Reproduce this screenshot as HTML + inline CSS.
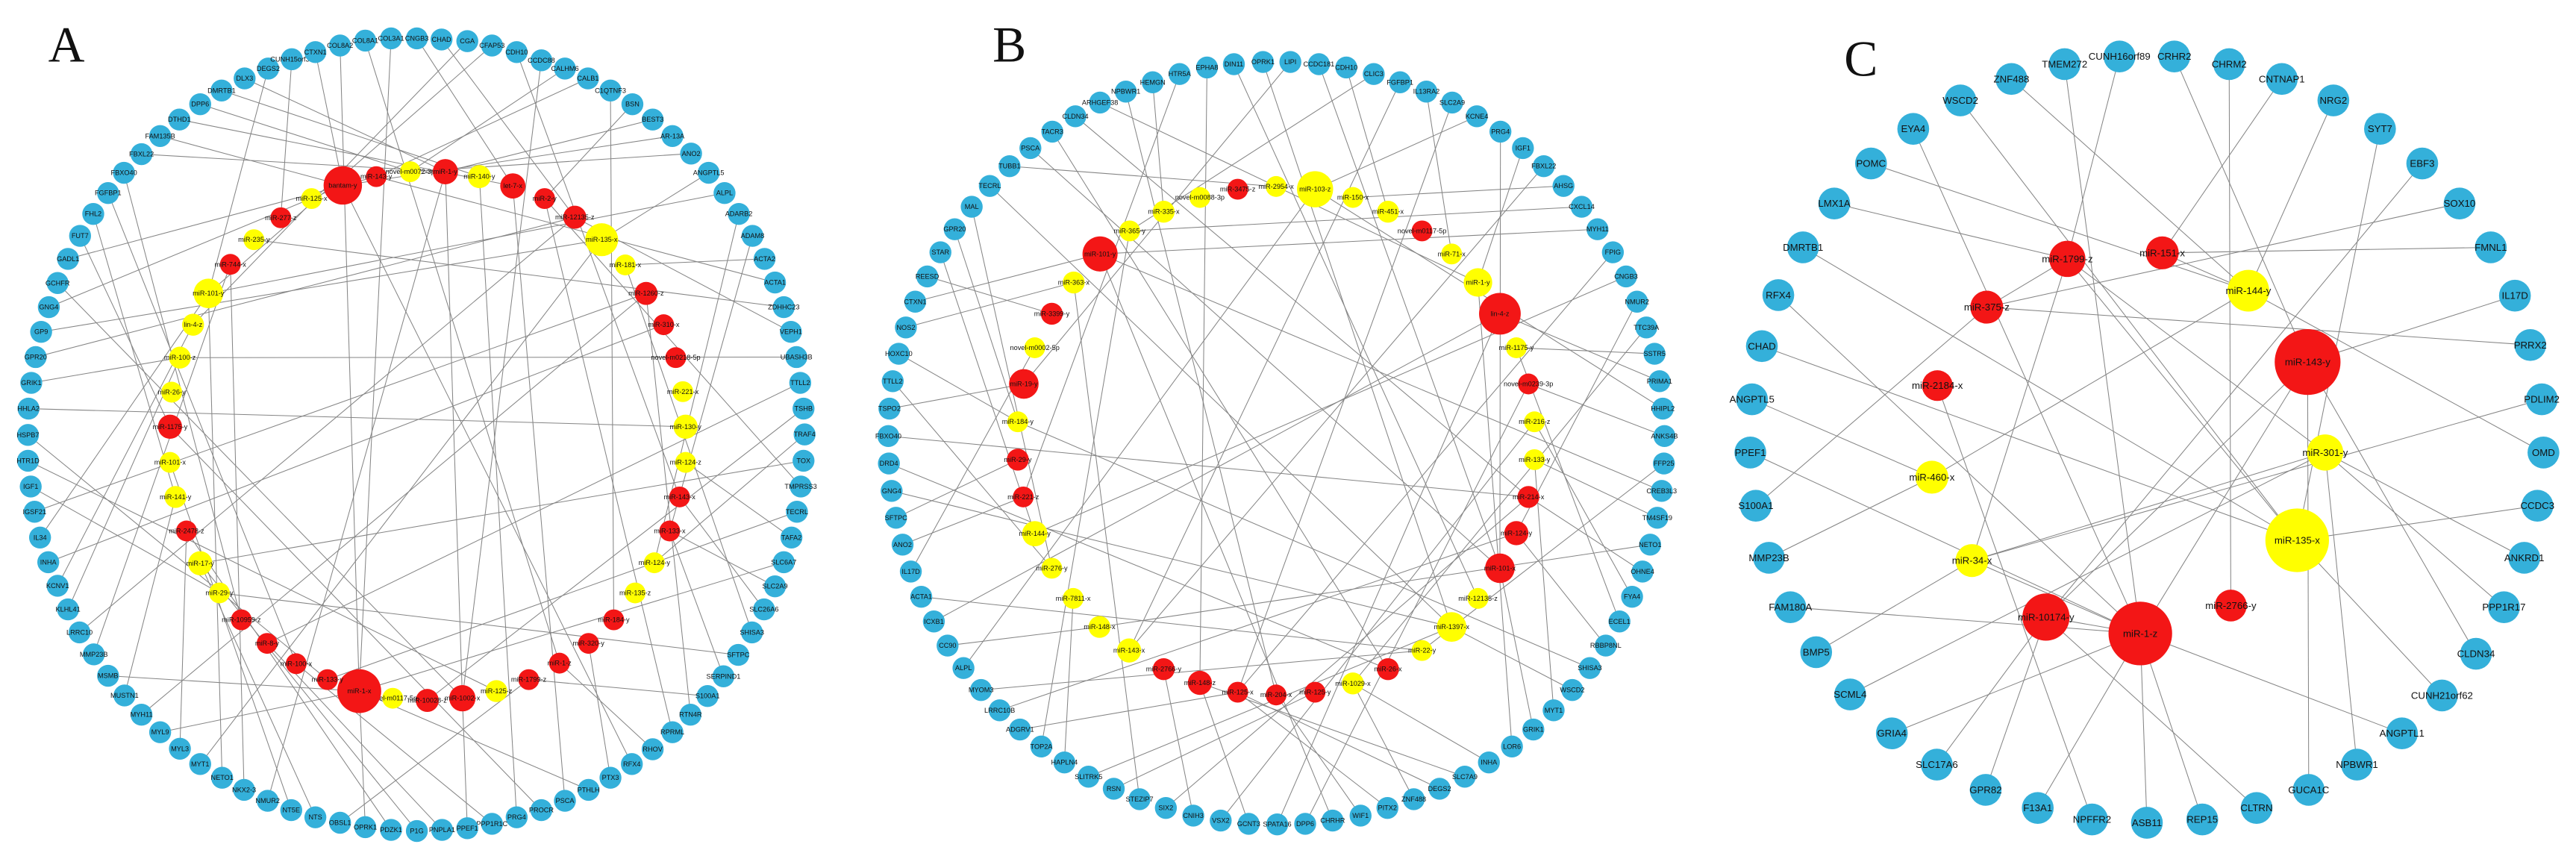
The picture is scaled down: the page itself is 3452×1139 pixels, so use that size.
<!DOCTYPE html>
<html><head><meta charset="utf-8"><style>
html,body{margin:0;padding:0;background:#fff;}
svg{display:block;}
line{stroke:#858585;stroke-width:1.4;}
.b{fill:#34b0da;}
.r{fill:#f31616;}
.y{fill:#ffff00;}
text{font-family:"Liberation Sans",Arial,sans-serif;text-anchor:middle;dominant-baseline:central;fill:#111;}
.t{font-size:12.5px;}
.tc{font-size:18px;}
.L{font-family:"Liberation Serif",serif;font-size:92px;text-anchor:start;dominant-baseline:auto;}
</style></head><body>
<svg width="3452" height="1139" viewBox="0 0 3452 1139" xmlns="http://www.w3.org/2000/svg">
<rect width="3452" height="1139" fill="#fff"/>

<!-- PANEL A -->
<g transform="translate(0,0) scale(0.735)">
<text class="L" x="88" y="112">A</text>
<g>
<line x1="620" y1="83" x2="655" y2="1260"/><line x1="575" y1="95" x2="625" y2="338"/><line x1="532" y1="108" x2="512" y2="397"/><line x1="489" y1="125" x2="380" y2="535"/><line x1="446" y1="143" x2="812" y2="313"/><line x1="404" y1="165" x2="874" y2="322"/><line x1="365" y1="190" x2="748" y2="313"/><line x1="327" y1="218" x2="935" y2="339"/><line x1="292" y1="248" x2="625" y2="338"/><line x1="258" y1="281" x2="812" y2="313"/><line x1="226" y1="315" x2="440" y2="1130"/><line x1="197" y1="352" x2="540" y2="1210"/><line x1="170" y1="390" x2="320" y2="906"/><line x1="146" y1="430" x2="310" y2="778"/><line x1="124" y1="472" x2="686" y2="322"/><line x1="105" y1="516" x2="843" y2="1273"/><line x1="89" y1="560" x2="625" y2="338"/><line x1="75" y1="605" x2="1097" y2="437"/><line x1="65" y1="651" x2="1048" y2="396"/><line x1="57" y1="698" x2="328" y2="652"/><line x1="52" y1="745" x2="1250" y2="778"/><line x1="51" y1="793" x2="597" y2="1239"/><line x1="51" y1="840" x2="905" y2="1260"/><line x1="56" y1="887" x2="400" y2="1081"/><line x1="63" y1="933" x2="1178" y2="535"/><line x1="73" y1="980" x2="380" y2="535"/><line x1="88" y1="1025" x2="1210" y2="592"/><line x1="105" y1="1068" x2="352" y2="592"/><line x1="124" y1="1111" x2="328" y2="652"/><line x1="145" y1="1153" x2="1048" y2="396"/><line x1="171" y1="1193" x2="420" y2="482"/><line x1="197" y1="1232" x2="655" y2="1260"/><line x1="227" y1="1268" x2="320" y2="906"/><line x1="258" y1="1303" x2="1178" y2="535"/><line x1="292" y1="1335" x2="655" y2="1260"/><line x1="328" y1="1365" x2="340" y2="968"/><line x1="365" y1="1393" x2="1097" y2="437"/><line x1="405" y1="1418" x2="380" y2="535"/><line x1="445" y1="1440" x2="420" y2="482"/><line x1="488" y1="1460" x2="812" y2="313"/><line x1="531" y1="1477" x2="310" y2="843"/><line x1="575" y1="1490" x2="365" y2="1027"/><line x1="620" y1="1500" x2="964" y2="1239"/><line x1="666" y1="1508" x2="655" y2="1260"/><line x1="713" y1="1513" x2="340" y2="968"/><line x1="760" y1="1515" x2="365" y2="1027"/><line x1="806" y1="1513" x2="487" y2="1173"/><line x1="852" y1="1510" x2="843" y2="1273"/><line x1="897" y1="1502" x2="540" y2="1210"/><line x1="942" y1="1490" x2="874" y2="322"/><line x1="987" y1="1477" x2="310" y2="778"/><line x1="1030" y1="1460" x2="935" y2="339"/><line x1="1073" y1="1440" x2="655" y2="1260"/><line x1="1113" y1="1418" x2="1073" y2="1173"/><line x1="1152" y1="1393" x2="625" y2="338"/><line x1="1190" y1="1366" x2="1020" y2="1209"/><line x1="1226" y1="1335" x2="993" y2="362"/><line x1="1259" y1="1303" x2="1178" y2="535"/><line x1="1290" y1="1269" x2="964" y2="1239"/><line x1="1319" y1="1233" x2="1221" y2="968"/><line x1="1346" y1="1194" x2="400" y2="1081"/><line x1="1371" y1="1153" x2="1140" y2="483"/><line x1="1393" y1="1111" x2="1239" y2="906"/><line x1="1413" y1="1069" x2="1221" y2="968"/><line x1="1429" y1="1025" x2="655" y2="1260"/><line x1="1443" y1="980" x2="1250" y2="843"/><line x1="1453" y1="933" x2="597" y2="1239"/><line x1="1460" y1="887" x2="993" y2="362"/><line x1="1465" y1="840" x2="365" y2="1027"/><line x1="1467" y1="792" x2="1193" y2="1026"/><line x1="1465" y1="745" x2="779" y2="1277"/><line x1="1459" y1="698" x2="487" y2="1173"/><line x1="1452" y1="651" x2="328" y2="652"/><line x1="1442" y1="605" x2="1048" y2="396"/><line x1="1429" y1="560" x2="463" y2="437"/><line x1="1413" y1="515" x2="686" y2="322"/><line x1="1394" y1="472" x2="1140" y2="483"/><line x1="1372" y1="430" x2="1221" y2="968"/><line x1="1347" y1="390" x2="1193" y2="1026"/><line x1="1321" y1="352" x2="380" y2="535"/><line x1="1292" y1="315" x2="1097" y2="437"/><line x1="1260" y1="280" x2="748" y2="313"/><line x1="1226" y1="248" x2="625" y2="338"/><line x1="1190" y1="218" x2="812" y2="313"/><line x1="1153" y1="190" x2="993" y2="362"/><line x1="1113" y1="165" x2="1119" y2="1130"/><line x1="1072" y1="143" x2="686" y2="322"/><line x1="1030" y1="125" x2="748" y2="313"/><line x1="987" y1="110" x2="843" y2="1273"/><line x1="942" y1="95" x2="1239" y2="906"/><line x1="897" y1="83" x2="380" y2="535"/><line x1="852" y1="75" x2="352" y2="592"/><line x1="805" y1="72" x2="1048" y2="396"/><line x1="760" y1="70" x2="935" y2="339"/><line x1="713" y1="70" x2="655" y2="1260"/><line x1="666" y1="74" x2="1020" y2="1209"/><line x1="812" y1="313" x2="843" y2="1273"/>
</g>
<g>
<circle class="b" cx="760" cy="70" r="20"/><text class="t" x="760" y="70">CNGB3</text>
<circle class="b" cx="805" cy="72" r="20"/><text class="t" x="805" y="72">CHAD</text>
<circle class="b" cx="852" cy="75" r="20"/><text class="t" x="852" y="75">CGA</text>
<circle class="b" cx="897" cy="83" r="20"/><text class="t" x="897" y="83">CFAP53</text>
<circle class="b" cx="942" cy="95" r="20"/><text class="t" x="942" y="95">CDH10</text>
<circle class="b" cx="987" cy="110" r="20"/><text class="t" x="987" y="110">CCDC88</text>
<circle class="b" cx="1030" cy="125" r="20"/><text class="t" x="1030" y="125">CALHM6</text>
<circle class="b" cx="1072" cy="143" r="20"/><text class="t" x="1072" y="143">CALB1</text>
<circle class="b" cx="1113" cy="165" r="20"/><text class="t" x="1113" y="165">C1QTNF3</text>
<circle class="b" cx="1153" cy="190" r="20"/><text class="t" x="1153" y="190">BSN</text>
<circle class="b" cx="1190" cy="218" r="20"/><text class="t" x="1190" y="218">BEST3</text>
<circle class="b" cx="1226" cy="248" r="20"/><text class="t" x="1226" y="248">AR-13A</text>
<circle class="b" cx="1260" cy="280" r="20"/><text class="t" x="1260" y="280">ANO2</text>
<circle class="b" cx="1292" cy="315" r="20"/><text class="t" x="1292" y="315">ANGPTL5</text>
<circle class="b" cx="1321" cy="352" r="20"/><text class="t" x="1321" y="352">ALPL</text>
<circle class="b" cx="1347" cy="390" r="20"/><text class="t" x="1347" y="390">ADARB2</text>
<circle class="b" cx="1372" cy="430" r="20"/><text class="t" x="1372" y="430">ADAM8</text>
<circle class="b" cx="1394" cy="472" r="20"/><text class="t" x="1394" y="472">ACTA2</text>
<circle class="b" cx="1413" cy="515" r="20"/><text class="t" x="1413" y="515">ACTA1</text>
<circle class="b" cx="1429" cy="560" r="20"/><text class="t" x="1429" y="560">ZDHHC23</text>
<circle class="b" cx="1442" cy="605" r="20"/><text class="t" x="1442" y="605">VEPH1</text>
<circle class="b" cx="1452" cy="651" r="20"/><text class="t" x="1452" y="651">UBASH3B</text>
<circle class="b" cx="1459" cy="698" r="20"/><text class="t" x="1459" y="698">TTLL2</text>
<circle class="b" cx="1465" cy="745" r="20"/><text class="t" x="1465" y="745">TSHB</text>
<circle class="b" cx="1467" cy="792" r="20"/><text class="t" x="1467" y="792">TRAF4</text>
<circle class="b" cx="1465" cy="840" r="20"/><text class="t" x="1465" y="840">TOX</text>
<circle class="b" cx="1460" cy="887" r="20"/><text class="t" x="1460" y="887">TMPRSS3</text>
<circle class="b" cx="1453" cy="933" r="20"/><text class="t" x="1453" y="933">TECRL</text>
<circle class="b" cx="1443" cy="980" r="20"/><text class="t" x="1443" y="980">TAFA2</text>
<circle class="b" cx="1429" cy="1025" r="20"/><text class="t" x="1429" y="1025">SLC6A7</text>
<circle class="b" cx="1413" cy="1069" r="20"/><text class="t" x="1413" y="1069">SLC2A9</text>
<circle class="b" cx="1393" cy="1111" r="20"/><text class="t" x="1393" y="1111">SLC26A6</text>
<circle class="b" cx="1371" cy="1153" r="20"/><text class="t" x="1371" y="1153">SHISA3</text>
<circle class="b" cx="1346" cy="1194" r="20"/><text class="t" x="1346" y="1194">SFTPC</text>
<circle class="b" cx="1319" cy="1233" r="20"/><text class="t" x="1319" y="1233">SERPIND1</text>
<circle class="b" cx="1290" cy="1269" r="20"/><text class="t" x="1290" y="1269">S100A1</text>
<circle class="b" cx="1259" cy="1303" r="20"/><text class="t" x="1259" y="1303">RTN4R</text>
<circle class="b" cx="1226" cy="1335" r="20"/><text class="t" x="1226" y="1335">RPRML</text>
<circle class="b" cx="1190" cy="1366" r="20"/><text class="t" x="1190" y="1366">RHOV</text>
<circle class="b" cx="1152" cy="1393" r="20"/><text class="t" x="1152" y="1393">RFX4</text>
<circle class="b" cx="1113" cy="1418" r="20"/><text class="t" x="1113" y="1418">PTX3</text>
<circle class="b" cx="1073" cy="1440" r="20"/><text class="t" x="1073" y="1440">PTHLH</text>
<circle class="b" cx="1030" cy="1460" r="20"/><text class="t" x="1030" y="1460">PSCA</text>
<circle class="b" cx="987" cy="1477" r="20"/><text class="t" x="987" y="1477">PROCR</text>
<circle class="b" cx="942" cy="1490" r="20"/><text class="t" x="942" y="1490">PRG4</text>
<circle class="b" cx="897" cy="1502" r="20"/><text class="t" x="897" y="1502">PPP1R1C</text>
<circle class="b" cx="852" cy="1510" r="20"/><text class="t" x="852" y="1510">PPEF1</text>
<circle class="b" cx="806" cy="1513" r="20"/><text class="t" x="806" y="1513">PNPLA1</text>
<circle class="b" cx="760" cy="1515" r="20"/><text class="t" x="760" y="1515">P1G</text>
<circle class="b" cx="713" cy="1513" r="20"/><text class="t" x="713" y="1513">PDZK1</text>
<circle class="b" cx="666" cy="1508" r="20"/><text class="t" x="666" y="1508">OPRK1</text>
<circle class="b" cx="620" cy="1500" r="20"/><text class="t" x="620" y="1500">OBSL1</text>
<circle class="b" cx="575" cy="1490" r="20"/><text class="t" x="575" y="1490">NTS</text>
<circle class="b" cx="531" cy="1477" r="20"/><text class="t" x="531" y="1477">NT5E</text>
<circle class="b" cx="488" cy="1460" r="20"/><text class="t" x="488" y="1460">NMUR2</text>
<circle class="b" cx="445" cy="1440" r="20"/><text class="t" x="445" y="1440">NKX2-3</text>
<circle class="b" cx="405" cy="1418" r="20"/><text class="t" x="405" y="1418">NETO1</text>
<circle class="b" cx="365" cy="1393" r="20"/><text class="t" x="365" y="1393">MYT1</text>
<circle class="b" cx="328" cy="1365" r="20"/><text class="t" x="328" y="1365">MYL3</text>
<circle class="b" cx="292" cy="1335" r="20"/><text class="t" x="292" y="1335">MYL9</text>
<circle class="b" cx="258" cy="1303" r="20"/><text class="t" x="258" y="1303">MYH11</text>
<circle class="b" cx="227" cy="1268" r="20"/><text class="t" x="227" y="1268">MUSTN1</text>
<circle class="b" cx="197" cy="1232" r="20"/><text class="t" x="197" y="1232">MSMB</text>
<circle class="b" cx="171" cy="1193" r="20"/><text class="t" x="171" y="1193">MMP23B</text>
<circle class="b" cx="145" cy="1153" r="20"/><text class="t" x="145" y="1153">LRRC10</text>
<circle class="b" cx="124" cy="1111" r="20"/><text class="t" x="124" y="1111">KLHL41</text>
<circle class="b" cx="105" cy="1068" r="20"/><text class="t" x="105" y="1068">KCNV1</text>
<circle class="b" cx="88" cy="1025" r="20"/><text class="t" x="88" y="1025">INHA</text>
<circle class="b" cx="73" cy="980" r="20"/><text class="t" x="73" y="980">IL34</text>
<circle class="b" cx="63" cy="933" r="20"/><text class="t" x="63" y="933">IGSF21</text>
<circle class="b" cx="56" cy="887" r="20"/><text class="t" x="56" y="887">IGF1</text>
<circle class="b" cx="51" cy="840" r="20"/><text class="t" x="51" y="840">HTR1D</text>
<circle class="b" cx="51" cy="793" r="20"/><text class="t" x="51" y="793">HSPB7</text>
<circle class="b" cx="52" cy="745" r="20"/><text class="t" x="52" y="745">HHLA2</text>
<circle class="b" cx="57" cy="698" r="20"/><text class="t" x="57" y="698">GRIK1</text>
<circle class="b" cx="65" cy="651" r="20"/><text class="t" x="65" y="651">GPR20</text>
<circle class="b" cx="75" cy="605" r="20"/><text class="t" x="75" y="605">GP9</text>
<circle class="b" cx="89" cy="560" r="20"/><text class="t" x="89" y="560">GNG4</text>
<circle class="b" cx="105" cy="516" r="20"/><text class="t" x="105" y="516">GCHFR</text>
<circle class="b" cx="124" cy="472" r="20"/><text class="t" x="124" y="472">GADL1</text>
<circle class="b" cx="146" cy="430" r="20"/><text class="t" x="146" y="430">FUT7</text>
<circle class="b" cx="170" cy="390" r="20"/><text class="t" x="170" y="390">FHL2</text>
<circle class="b" cx="197" cy="352" r="20"/><text class="t" x="197" y="352">FGFBP1</text>
<circle class="b" cx="226" cy="315" r="20"/><text class="t" x="226" y="315">FBXO40</text>
<circle class="b" cx="258" cy="281" r="20"/><text class="t" x="258" y="281">FBXL22</text>
<circle class="b" cx="292" cy="248" r="20"/><text class="t" x="292" y="248">FAM135B</text>
<circle class="b" cx="327" cy="218" r="20"/><text class="t" x="327" y="218">DTHD1</text>
<circle class="b" cx="365" cy="190" r="20"/><text class="t" x="365" y="190">DPP6</text>
<circle class="b" cx="404" cy="165" r="20"/><text class="t" x="404" y="165">DMRTB1</text>
<circle class="b" cx="446" cy="143" r="20"/><text class="t" x="446" y="143">DLX3</text>
<circle class="b" cx="489" cy="125" r="20"/><text class="t" x="489" y="125">DEGS2</text>
<circle class="b" cx="532" cy="108" r="20"/><text class="t" x="532" y="108">CUNH15orf39</text>
<circle class="b" cx="575" cy="95" r="20"/><text class="t" x="575" y="95">CTXN1</text>
<circle class="b" cx="620" cy="83" r="20"/><text class="t" x="620" y="83">COL8A2</text>
<circle class="b" cx="666" cy="74" r="20"/><text class="t" x="666" y="74">COL8A1</text>
<circle class="b" cx="713" cy="70" r="20"/><text class="t" x="713" y="70">COL3A1</text>
</g>
<g>
<circle class="r" cx="625" cy="338" r="35"/><text class="t" x="625" y="338">bantam-y</text>
<circle class="r" cx="686" cy="322" r="19"/><text class="t" x="686" y="322">miR-143-y</text>
<circle class="y" cx="748" cy="313" r="19"/><text class="t" x="748" y="313">novel-m0072-3p</text>
<circle class="r" cx="812" cy="313" r="23"/><text class="t" x="812" y="313">miR-1-y</text>
<circle class="y" cx="874" cy="322" r="21"/><text class="t" x="874" y="322">miR-140-y</text>
<circle class="r" cx="935" cy="339" r="23"/><text class="t" x="935" y="339">let-7-x</text>
<circle class="r" cx="993" cy="362" r="19"/><text class="t" x="993" y="362">miR-2-y</text>
<circle class="r" cx="1048" cy="396" r="21"/><text class="t" x="1048" y="396">miR-12135-z</text>
<circle class="y" cx="1097" cy="437" r="30"/><text class="t" x="1097" y="437">miR-135-x</text>
<circle class="y" cx="1140" cy="483" r="19"/><text class="t" x="1140" y="483">miR-181-x</text>
<circle class="r" cx="1178" cy="535" r="21"/><text class="t" x="1178" y="535">miR-1260-z</text>
<circle class="r" cx="1210" cy="592" r="19"/><text class="t" x="1210" y="592">miR-310-x</text>
<circle class="r" cx="1232" cy="652" r="19"/><text class="t" x="1232" y="652">novel-m0218-5p</text>
<circle class="y" cx="1245" cy="714" r="19"/><text class="t" x="1245" y="714">miR-221-x</text>
<circle class="y" cx="1250" cy="778" r="22"/><text class="t" x="1250" y="778">miR-130-y</text>
<circle class="y" cx="1250" cy="843" r="19"/><text class="t" x="1250" y="843">miR-124-z</text>
<circle class="r" cx="1239" cy="906" r="19"/><text class="t" x="1239" y="906">miR-143-x</text>
<circle class="r" cx="1221" cy="968" r="19"/><text class="t" x="1221" y="968">miR-133-x</text>
<circle class="y" cx="1193" cy="1026" r="19"/><text class="t" x="1193" y="1026">miR-124-y</text>
<circle class="y" cx="1158" cy="1081" r="19"/><text class="t" x="1158" y="1081">miR-135-z</text>
<circle class="r" cx="1119" cy="1130" r="19"/><text class="t" x="1119" y="1130">miR-184-y</text>
<circle class="r" cx="1073" cy="1173" r="19"/><text class="t" x="1073" y="1173">miR-320-y</text>
<circle class="r" cx="1020" cy="1209" r="19"/><text class="t" x="1020" y="1209">miR-1-z</text>
<circle class="r" cx="964" cy="1239" r="19"/><text class="t" x="964" y="1239">miR-1799-z</text>
<circle class="y" cx="905" cy="1260" r="20"/><text class="t" x="905" y="1260">miR-125-z</text>
<circle class="r" cx="843" cy="1273" r="24"/><text class="t" x="843" y="1273">miR-1002-x</text>
<circle class="r" cx="779" cy="1277" r="21"/><text class="t" x="779" y="1277">miR-10028-z</text>
<circle class="y" cx="716" cy="1273" r="19"/><text class="t" x="716" y="1273">novel-m0117-5p</text>
<circle class="r" cx="655" cy="1260" r="40"/><text class="t" x="655" y="1260">miR-1-x</text>
<circle class="r" cx="597" cy="1239" r="19"/><text class="t" x="597" y="1239">miR-133-y</text>
<circle class="r" cx="540" cy="1210" r="19"/><text class="t" x="540" y="1210">miR-100-x</text>
<circle class="r" cx="487" cy="1173" r="19"/><text class="t" x="487" y="1173">miR-8-y</text>
<circle class="r" cx="440" cy="1130" r="19"/><text class="t" x="440" y="1130">miR-10959-z</text>
<circle class="y" cx="400" cy="1081" r="19"/><text class="t" x="400" y="1081">miR-29-y</text>
<circle class="y" cx="365" cy="1027" r="22"/><text class="t" x="365" y="1027">miR-17-y</text>
<circle class="r" cx="340" cy="968" r="19"/><text class="t" x="340" y="968">miR-2478-z</text>
<circle class="y" cx="320" cy="906" r="20"/><text class="t" x="320" y="906">miR-141-y</text>
<circle class="y" cx="310" cy="843" r="19"/><text class="t" x="310" y="843">miR-101-x</text>
<circle class="r" cx="310" cy="778" r="22"/><text class="t" x="310" y="778">miR-1175-y</text>
<circle class="y" cx="313" cy="715" r="19"/><text class="t" x="313" y="715">miR-26-y</text>
<circle class="y" cx="328" cy="652" r="20"/><text class="t" x="328" y="652">miR-100-z</text>
<circle class="y" cx="352" cy="592" r="20"/><text class="t" x="352" y="592">lin-4-z</text>
<circle class="y" cx="380" cy="535" r="27"/><text class="t" x="380" y="535">miR-101-y</text>
<circle class="r" cx="420" cy="482" r="19"/><text class="t" x="420" y="482">miR-744-x</text>
<circle class="y" cx="463" cy="437" r="19"/><text class="t" x="463" y="437">miR-235-y</text>
<circle class="r" cx="512" cy="397" r="19"/><text class="t" x="512" y="397">miR-277-z</text>
<circle class="y" cx="568" cy="362" r="19"/><text class="t" x="568" y="362">miR-125-x</text>
</g>
</g>

<!-- PANEL B -->
<g transform="translate(1150,0) scale(0.735)">
<text class="L" x="245" y="112">B</text>
<g>
<line x1="636" y1="123" x2="623" y2="1245"/><line x1="1171" y1="240" x2="1170" y2="1036"/><line x1="276" y1="303" x2="762" y2="340"/><line x1="55" y1="795" x2="1222" y2="906"/><line x1="57" y1="745" x2="302" y2="700"/><line x1="74" y1="645" x2="291" y2="769"/><line x1="1286" y1="339" x2="902" y2="360"/><line x1="1319" y1="377" x2="495" y2="421"/><line x1="1452" y1="645" x2="1200" y2="634"/><line x1="87" y1="597" x2="393" y2="515"/><line x1="104" y1="550" x2="441" y2="463"/><line x1="126" y1="504" x2="353" y2="572"/><line x1="150" y1="460" x2="322" y2="973"/><line x1="176" y1="418" x2="291" y2="769"/><line x1="207" y1="377" x2="353" y2="1036"/><line x1="240" y1="339" x2="1082" y2="1143"/><line x1="314" y1="270" x2="1170" y2="1036"/><line x1="354" y1="240" x2="966" y2="1220"/><line x1="396" y1="212" x2="1222" y2="906"/><line x1="441" y1="187" x2="1130" y2="515"/><line x1="488" y1="167" x2="762" y2="1267"/><line x1="537" y1="150" x2="557" y2="386"/><line x1="586" y1="135" x2="301" y2="906"/><line x1="685" y1="117" x2="1130" y2="1091"/><line x1="738" y1="113" x2="1082" y2="1143"/><line x1="788" y1="113" x2="302" y2="700"/><line x1="840" y1="117" x2="1170" y2="1036"/><line x1="890" y1="123" x2="966" y2="386"/><line x1="940" y1="135" x2="495" y2="421"/><line x1="988" y1="150" x2="494" y2="1186"/><line x1="1036" y1="167" x2="1082" y2="463"/><line x1="1083" y1="187" x2="692" y2="1262"/><line x1="1128" y1="212" x2="833" y2="345"/><line x1="1212" y1="270" x2="1130" y2="515"/><line x1="1250" y1="303" x2="494" y2="1186"/><line x1="1348" y1="418" x2="441" y2="463"/><line x1="1376" y1="460" x2="692" y2="1262"/><line x1="1400" y1="504" x2="322" y2="973"/><line x1="1420" y1="550" x2="1200" y2="972"/><line x1="1437" y1="597" x2="902" y2="1246"/><line x1="1461" y1="695" x2="1170" y2="572"/><line x1="1467" y1="745" x2="833" y2="345"/><line x1="1470" y1="795" x2="1222" y2="700"/><line x1="1469" y1="845" x2="1028" y2="1186"/><line x1="1465" y1="895" x2="441" y2="463"/><line x1="1457" y1="944" x2="1233" y2="838"/><line x1="1444" y1="993" x2="440" y2="1143"/><line x1="1430" y1="1042" x2="1222" y2="906"/><line x1="1411" y1="1088" x2="1233" y2="769"/><line x1="1388" y1="1133" x2="1200" y2="634"/><line x1="1363" y1="1177" x2="1200" y2="972"/><line x1="1334" y1="1218" x2="291" y2="769"/><line x1="1302" y1="1258" x2="1082" y2="1143"/><line x1="1268" y1="1295" x2="1233" y2="838"/><line x1="1231" y1="1330" x2="1170" y2="1036"/><line x1="1192" y1="1361" x2="1130" y2="515"/><line x1="1150" y1="1390" x2="902" y2="1246"/><line x1="1106" y1="1416" x2="623" y2="1245"/><line x1="1060" y1="1438" x2="692" y2="1262"/><line x1="1013" y1="1457" x2="902" y2="1246"/><line x1="965" y1="1473" x2="692" y2="1262"/><line x1="916" y1="1487" x2="762" y2="1267"/><line x1="865" y1="1496" x2="441" y2="463"/><line x1="815" y1="1502" x2="1222" y2="700"/><line x1="764" y1="1503" x2="1170" y2="572"/><line x1="712" y1="1502" x2="623" y2="1245"/><line x1="661" y1="1496" x2="1233" y2="769"/><line x1="611" y1="1487" x2="557" y2="1220"/><line x1="561" y1="1473" x2="1222" y2="906"/><line x1="513" y1="1457" x2="393" y2="515"/><line x1="466" y1="1438" x2="833" y2="1262"/><line x1="420" y1="1416" x2="1082" y2="1143"/><line x1="376" y1="1390" x2="392" y2="1091"/><line x1="334" y1="1361" x2="495" y2="421"/><line x1="295" y1="1330" x2="692" y2="1262"/><line x1="258" y1="1295" x2="1200" y2="972"/><line x1="224" y1="1258" x2="1028" y2="1186"/><line x1="192" y1="1218" x2="833" y2="345"/><line x1="163" y1="1177" x2="440" y2="1143"/><line x1="138" y1="1133" x2="1170" y2="572"/><line x1="115" y1="1088" x2="1028" y2="1186"/><line x1="96" y1="1042" x2="322" y2="634"/><line x1="81" y1="993" x2="301" y2="906"/><line x1="69" y1="944" x2="291" y2="838"/><line x1="61" y1="895" x2="1082" y2="1143"/><line x1="56" y1="845" x2="966" y2="1220"/><line x1="63" y1="695" x2="353" y2="1036"/>
</g>
<g>
<circle class="b" cx="636" cy="123" r="20"/><text class="t" x="636" y="123">EPHA8</text>
<circle class="b" cx="685" cy="117" r="20"/><text class="t" x="685" y="117">DIN11</text>
<circle class="b" cx="738" cy="113" r="20"/><text class="t" x="738" y="113">OPRK1</text>
<circle class="b" cx="788" cy="113" r="20"/><text class="t" x="788" y="113">LIPI</text>
<circle class="b" cx="840" cy="117" r="20"/><text class="t" x="840" y="117">CCDC181</text>
<circle class="b" cx="890" cy="123" r="20"/><text class="t" x="890" y="123">CDH10</text>
<circle class="b" cx="940" cy="135" r="20"/><text class="t" x="940" y="135">CLIC3</text>
<circle class="b" cx="988" cy="150" r="20"/><text class="t" x="988" y="150">FGFBP1</text>
<circle class="b" cx="1036" cy="167" r="20"/><text class="t" x="1036" y="167">IL13RA2</text>
<circle class="b" cx="1083" cy="187" r="20"/><text class="t" x="1083" y="187">SLC2A9</text>
<circle class="b" cx="1128" cy="212" r="20"/><text class="t" x="1128" y="212">KCNE4</text>
<circle class="b" cx="1171" cy="240" r="20"/><text class="t" x="1171" y="240">PRG4</text>
<circle class="b" cx="1212" cy="270" r="20"/><text class="t" x="1212" y="270">IGF1</text>
<circle class="b" cx="1250" cy="303" r="20"/><text class="t" x="1250" y="303">FBXL22</text>
<circle class="b" cx="1286" cy="339" r="20"/><text class="t" x="1286" y="339">AHSG</text>
<circle class="b" cx="1319" cy="377" r="20"/><text class="t" x="1319" y="377">CXCL14</text>
<circle class="b" cx="1348" cy="418" r="20"/><text class="t" x="1348" y="418">MYH11</text>
<circle class="b" cx="1376" cy="460" r="20"/><text class="t" x="1376" y="460">FPIG</text>
<circle class="b" cx="1400" cy="504" r="20"/><text class="t" x="1400" y="504">CNGB3</text>
<circle class="b" cx="1420" cy="550" r="20"/><text class="t" x="1420" y="550">NMUR2</text>
<circle class="b" cx="1437" cy="597" r="20"/><text class="t" x="1437" y="597">TTC39A</text>
<circle class="b" cx="1452" cy="645" r="20"/><text class="t" x="1452" y="645">SSTR5</text>
<circle class="b" cx="1461" cy="695" r="20"/><text class="t" x="1461" y="695">PRIMA1</text>
<circle class="b" cx="1467" cy="745" r="20"/><text class="t" x="1467" y="745">HHIPL2</text>
<circle class="b" cx="1470" cy="795" r="20"/><text class="t" x="1470" y="795">ANKS4B</text>
<circle class="b" cx="1469" cy="845" r="20"/><text class="t" x="1469" y="845">FFP25</text>
<circle class="b" cx="1465" cy="895" r="20"/><text class="t" x="1465" y="895">CREB3L3</text>
<circle class="b" cx="1457" cy="944" r="20"/><text class="t" x="1457" y="944">TM4SF19</text>
<circle class="b" cx="1444" cy="993" r="20"/><text class="t" x="1444" y="993">NETO1</text>
<circle class="b" cx="1430" cy="1042" r="20"/><text class="t" x="1430" y="1042">OHNE4</text>
<circle class="b" cx="1411" cy="1088" r="20"/><text class="t" x="1411" y="1088">FYA4</text>
<circle class="b" cx="1388" cy="1133" r="20"/><text class="t" x="1388" y="1133">ECEL1</text>
<circle class="b" cx="1363" cy="1177" r="20"/><text class="t" x="1363" y="1177">RBBP8NL</text>
<circle class="b" cx="1334" cy="1218" r="20"/><text class="t" x="1334" y="1218">SHISA3</text>
<circle class="b" cx="1302" cy="1258" r="20"/><text class="t" x="1302" y="1258">WSCD2</text>
<circle class="b" cx="1268" cy="1295" r="20"/><text class="t" x="1268" y="1295">MYT1</text>
<circle class="b" cx="1231" cy="1330" r="20"/><text class="t" x="1231" y="1330">GRIK1</text>
<circle class="b" cx="1192" cy="1361" r="20"/><text class="t" x="1192" y="1361">LOR6</text>
<circle class="b" cx="1150" cy="1390" r="20"/><text class="t" x="1150" y="1390">INHA</text>
<circle class="b" cx="1106" cy="1416" r="20"/><text class="t" x="1106" y="1416">SLC7A9</text>
<circle class="b" cx="1060" cy="1438" r="20"/><text class="t" x="1060" y="1438">DEGS2</text>
<circle class="b" cx="1013" cy="1457" r="20"/><text class="t" x="1013" y="1457">ZNF488</text>
<circle class="b" cx="965" cy="1473" r="20"/><text class="t" x="965" y="1473">PITX2</text>
<circle class="b" cx="916" cy="1487" r="20"/><text class="t" x="916" y="1487">WIF1</text>
<circle class="b" cx="865" cy="1496" r="20"/><text class="t" x="865" y="1496">CHRHR</text>
<circle class="b" cx="815" cy="1502" r="20"/><text class="t" x="815" y="1502">DPP6</text>
<circle class="b" cx="764" cy="1503" r="20"/><text class="t" x="764" y="1503">SPATA16</text>
<circle class="b" cx="712" cy="1502" r="20"/><text class="t" x="712" y="1502">GCNT3</text>
<circle class="b" cx="661" cy="1496" r="20"/><text class="t" x="661" y="1496">VSX2</text>
<circle class="b" cx="611" cy="1487" r="20"/><text class="t" x="611" y="1487">CNIH3</text>
<circle class="b" cx="561" cy="1473" r="20"/><text class="t" x="561" y="1473">SIX2</text>
<circle class="b" cx="513" cy="1457" r="20"/><text class="t" x="513" y="1457">STEZIP7</text>
<circle class="b" cx="466" cy="1438" r="20"/><text class="t" x="466" y="1438">RSN</text>
<circle class="b" cx="420" cy="1416" r="20"/><text class="t" x="420" y="1416">SLITRK5</text>
<circle class="b" cx="376" cy="1390" r="20"/><text class="t" x="376" y="1390">HAPLN4</text>
<circle class="b" cx="334" cy="1361" r="20"/><text class="t" x="334" y="1361">TOP2A</text>
<circle class="b" cx="295" cy="1330" r="20"/><text class="t" x="295" y="1330">ADGRV1</text>
<circle class="b" cx="258" cy="1295" r="20"/><text class="t" x="258" y="1295">LRRC10B</text>
<circle class="b" cx="224" cy="1258" r="20"/><text class="t" x="224" y="1258">MYOM3</text>
<circle class="b" cx="192" cy="1218" r="20"/><text class="t" x="192" y="1218">ALPL</text>
<circle class="b" cx="163" cy="1177" r="20"/><text class="t" x="163" y="1177">CC90</text>
<circle class="b" cx="138" cy="1133" r="20"/><text class="t" x="138" y="1133">ICXB1</text>
<circle class="b" cx="115" cy="1088" r="20"/><text class="t" x="115" y="1088">ACTA1</text>
<circle class="b" cx="96" cy="1042" r="20"/><text class="t" x="96" y="1042">IL17D</text>
<circle class="b" cx="81" cy="993" r="20"/><text class="t" x="81" y="993">ANO2</text>
<circle class="b" cx="69" cy="944" r="20"/><text class="t" x="69" y="944">SFTPC</text>
<circle class="b" cx="61" cy="895" r="20"/><text class="t" x="61" y="895">GNG4</text>
<circle class="b" cx="56" cy="845" r="20"/><text class="t" x="56" y="845">DRD4</text>
<circle class="b" cx="55" cy="795" r="20"/><text class="t" x="55" y="795">FBXO40</text>
<circle class="b" cx="57" cy="745" r="20"/><text class="t" x="57" y="745">TSPO2</text>
<circle class="b" cx="63" cy="695" r="20"/><text class="t" x="63" y="695">TTLL2</text>
<circle class="b" cx="74" cy="645" r="20"/><text class="t" x="74" y="645">HOXC10</text>
<circle class="b" cx="87" cy="597" r="20"/><text class="t" x="87" y="597">NOS2</text>
<circle class="b" cx="104" cy="550" r="20"/><text class="t" x="104" y="550">CTXN1</text>
<circle class="b" cx="126" cy="504" r="20"/><text class="t" x="126" y="504">REESD</text>
<circle class="b" cx="150" cy="460" r="20"/><text class="t" x="150" y="460">STAR</text>
<circle class="b" cx="176" cy="418" r="20"/><text class="t" x="176" y="418">GPR20</text>
<circle class="b" cx="207" cy="377" r="20"/><text class="t" x="207" y="377">MAL</text>
<circle class="b" cx="240" cy="339" r="20"/><text class="t" x="240" y="339">TECRL</text>
<circle class="b" cx="276" cy="303" r="20"/><text class="t" x="276" y="303">TUBB1</text>
<circle class="b" cx="314" cy="270" r="20"/><text class="t" x="314" y="270">PSCA</text>
<circle class="b" cx="354" cy="240" r="20"/><text class="t" x="354" y="240">TACR3</text>
<circle class="b" cx="396" cy="212" r="20"/><text class="t" x="396" y="212">CLDN34</text>
<circle class="b" cx="441" cy="187" r="20"/><text class="t" x="441" y="187">ARHGEF38</text>
<circle class="b" cx="488" cy="167" r="20"/><text class="t" x="488" y="167">NPBWR1</text>
<circle class="b" cx="537" cy="150" r="20"/><text class="t" x="537" y="150">HEMGN</text>
<circle class="b" cx="586" cy="135" r="20"/><text class="t" x="586" y="135">HTR5A</text>
</g>
<g>
<circle class="r" cx="692" cy="345" r="19"/><text class="t" x="692" y="345">miR-3475-z</text>
<circle class="y" cx="762" cy="340" r="19"/><text class="t" x="762" y="340">miR-2954-x</text>
<circle class="y" cx="833" cy="345" r="33"/><text class="t" x="833" y="345">miR-103-z</text>
<circle class="y" cx="902" cy="360" r="19"/><text class="t" x="902" y="360">miR-150-x</text>
<circle class="y" cx="966" cy="386" r="20"/><text class="t" x="966" y="386">miR-451-x</text>
<circle class="r" cx="1028" cy="421" r="19"/><text class="t" x="1028" y="421">novel-m0117-5p</text>
<circle class="y" cx="1082" cy="463" r="19"/><text class="t" x="1082" y="463">miR-71-x</text>
<circle class="y" cx="1130" cy="515" r="26"/><text class="t" x="1130" y="515">miR-1-y</text>
<circle class="r" cx="1170" cy="572" r="38"/><text class="t" x="1170" y="572">lin-4-z</text>
<circle class="y" cx="1200" cy="634" r="19"/><text class="t" x="1200" y="634">miR-1175-y</text>
<circle class="r" cx="1222" cy="700" r="19"/><text class="t" x="1222" y="700">novel-m0239-3p</text>
<circle class="y" cx="1233" cy="769" r="19"/><text class="t" x="1233" y="769">miR-216-z</text>
<circle class="y" cx="1233" cy="838" r="19"/><text class="t" x="1233" y="838">miR-133-y</text>
<circle class="r" cx="1222" cy="906" r="20"/><text class="t" x="1222" y="906">miR-214-x</text>
<circle class="r" cx="1200" cy="972" r="22"/><text class="t" x="1200" y="972">miR-124-y</text>
<circle class="r" cx="1170" cy="1036" r="27"/><text class="t" x="1170" y="1036">miR-101-x</text>
<circle class="y" cx="1130" cy="1091" r="19"/><text class="t" x="1130" y="1091">miR-12135-z</text>
<circle class="y" cx="1082" cy="1143" r="27"/><text class="t" x="1082" y="1143">miR-1397-x</text>
<circle class="y" cx="1028" cy="1186" r="19"/><text class="t" x="1028" y="1186">miR-22-y</text>
<circle class="r" cx="966" cy="1220" r="20"/><text class="t" x="966" y="1220">miR-26-x</text>
<circle class="y" cx="902" cy="1246" r="20"/><text class="t" x="902" y="1246">miR-1029-x</text>
<circle class="r" cx="833" cy="1262" r="19"/><text class="t" x="833" y="1262">miR-125-y</text>
<circle class="r" cx="762" cy="1267" r="19"/><text class="t" x="762" y="1267">miR-204-x</text>
<circle class="r" cx="692" cy="1262" r="19"/><text class="t" x="692" y="1262">miR-125-x</text>
<circle class="r" cx="623" cy="1245" r="22"/><text class="t" x="623" y="1245">miR-148-z</text>
<circle class="r" cx="557" cy="1220" r="20"/><text class="t" x="557" y="1220">miR-2766-y</text>
<circle class="y" cx="494" cy="1186" r="22"/><text class="t" x="494" y="1186">miR-143-x</text>
<circle class="y" cx="440" cy="1143" r="20"/><text class="t" x="440" y="1143">miR-148-x</text>
<circle class="y" cx="392" cy="1091" r="19"/><text class="t" x="392" y="1091">miR-7811-x</text>
<circle class="y" cx="353" cy="1036" r="19"/><text class="t" x="353" y="1036">miR-276-y</text>
<circle class="y" cx="322" cy="973" r="23"/><text class="t" x="322" y="973">miR-144-y</text>
<circle class="r" cx="301" cy="906" r="19"/><text class="t" x="301" y="906">miR-221-z</text>
<circle class="r" cx="291" cy="838" r="20"/><text class="t" x="291" y="838">miR-29-y</text>
<circle class="y" cx="291" cy="769" r="19"/><text class="t" x="291" y="769">miR-184-y</text>
<circle class="r" cx="302" cy="700" r="27"/><text class="t" x="302" y="700">miR-19-y</text>
<circle class="y" cx="322" cy="634" r="19"/><text class="t" x="322" y="634">novel-m0002-5p</text>
<circle class="r" cx="353" cy="572" r="20"/><text class="t" x="353" y="572">miR-3399-y</text>
<circle class="y" cx="393" cy="515" r="20"/><text class="t" x="393" y="515">miR-363-x</text>
<circle class="r" cx="441" cy="463" r="32"/><text class="t" x="441" y="463">miR-101-y</text>
<circle class="y" cx="495" cy="421" r="19"/><text class="t" x="495" y="421">miR-365-y</text>
<circle class="y" cx="557" cy="386" r="20"/><text class="t" x="557" y="386">miR-335-x</text>
<circle class="y" cx="623" cy="360" r="19"/><text class="t" x="623" y="360">novel-m0088-3p</text>
</g>
</g>

<!-- PANEL C -->
<g transform="translate(2300,0) scale(0.735)">
<text class="L" x="233" y="138">C</text>
<g>
<line x1="735" y1="103" x2="640" y2="472"/><line x1="635" y1="117" x2="773" y2="1155"/><line x1="538" y1="144" x2="970" y2="530"/><line x1="445" y1="183" x2="1059" y2="985"/><line x1="359" y1="235" x2="773" y2="1155"/><line x1="282" y1="298" x2="970" y2="530"/><line x1="215" y1="371" x2="640" y2="472"/><line x1="158" y1="451" x2="1059" y2="985"/><line x1="113" y1="538" x2="773" y2="1155"/><line x1="83" y1="631" x2="1059" y2="985"/><line x1="65" y1="728" x2="393" y2="870"/><line x1="62" y1="825" x2="773" y2="1155"/><line x1="72" y1="922" x2="493" y2="560"/><line x1="96" y1="1017" x2="393" y2="870"/><line x1="135" y1="1107" x2="773" y2="1155"/><line x1="182" y1="1189" x2="466" y2="1022"/><line x1="244" y1="1266" x2="1110" y2="825"/><line x1="320" y1="1337" x2="773" y2="1155"/><line x1="402" y1="1394" x2="601" y2="1125"/><line x1="491" y1="1440" x2="601" y2="1125"/><line x1="586" y1="1473" x2="773" y2="1155"/><line x1="685" y1="1494" x2="403" y2="703"/><line x1="785" y1="1500" x2="773" y2="1155"/><line x1="886" y1="1494" x2="773" y2="1155"/><line x1="985" y1="1473" x2="601" y2="1125"/><line x1="1080" y1="1440" x2="1078" y2="660"/><line x1="1168" y1="1394" x2="1110" y2="825"/><line x1="1250" y1="1337" x2="773" y2="1155"/><line x1="1323" y1="1268" x2="1059" y2="985"/><line x1="1385" y1="1192" x2="1078" y2="660"/><line x1="1436" y1="1107" x2="1110" y2="825"/><line x1="1473" y1="1017" x2="1110" y2="825"/><line x1="1497" y1="922" x2="1059" y2="985"/><line x1="1508" y1="825" x2="970" y2="530"/><line x1="1505" y1="728" x2="466" y2="1022"/><line x1="1484" y1="629" x2="493" y2="560"/><line x1="1456" y1="539" x2="1078" y2="660"/><line x1="1412" y1="451" x2="813" y2="461"/><line x1="1355" y1="371" x2="493" y2="560"/><line x1="1287" y1="298" x2="601" y2="1125"/><line x1="1210" y1="235" x2="1059" y2="985"/><line x1="1125" y1="183" x2="970" y2="530"/><line x1="1031" y1="144" x2="813" y2="461"/><line x1="935" y1="117" x2="938" y2="1104"/><line x1="835" y1="103" x2="1078" y2="660"/><line x1="640" y1="472" x2="466" y2="1022"/><line x1="640" y1="472" x2="1059" y2="985"/><line x1="640" y1="472" x2="493" y2="560"/><line x1="970" y1="530" x2="393" y2="870"/><line x1="1078" y1="660" x2="773" y2="1155"/><line x1="1078" y1="660" x2="601" y2="1125"/><line x1="1110" y1="825" x2="466" y2="1022"/><line x1="813" y1="461" x2="970" y2="530"/><line x1="601" y1="1125" x2="773" y2="1155"/><line x1="466" y1="1022" x2="773" y2="1155"/><line x1="640" y1="472" x2="1110" y2="825"/>
</g>
<g>
<circle class="b" cx="935" cy="117" r="29"/><text class="tc" x="935" y="117">CHRM2</text>
<circle class="b" cx="1031" cy="144" r="29"/><text class="tc" x="1031" y="144">CNTNAP1</text>
<circle class="b" cx="1125" cy="183" r="29"/><text class="tc" x="1125" y="183">NRG2</text>
<circle class="b" cx="1210" cy="235" r="29"/><text class="tc" x="1210" y="235">SYT7</text>
<circle class="b" cx="1287" cy="298" r="29"/><text class="tc" x="1287" y="298">EBF3</text>
<circle class="b" cx="1355" cy="371" r="29"/><text class="tc" x="1355" y="371">SOX10</text>
<circle class="b" cx="1412" cy="451" r="29"/><text class="tc" x="1412" y="451">FMNL1</text>
<circle class="b" cx="1456" cy="539" r="29"/><text class="tc" x="1456" y="539">IL17D</text>
<circle class="b" cx="1484" cy="629" r="29"/><text class="tc" x="1484" y="629">PRRX2</text>
<circle class="b" cx="1505" cy="728" r="29"/><text class="tc" x="1505" y="728">PDLIM2</text>
<circle class="b" cx="1508" cy="825" r="29"/><text class="tc" x="1508" y="825">OMD</text>
<circle class="b" cx="1497" cy="922" r="29"/><text class="tc" x="1497" y="922">CCDC3</text>
<circle class="b" cx="1473" cy="1017" r="29"/><text class="tc" x="1473" y="1017">ANKRD1</text>
<circle class="b" cx="1436" cy="1107" r="29"/><text class="tc" x="1436" y="1107">PPP1R17</text>
<circle class="b" cx="1385" cy="1192" r="29"/><text class="tc" x="1385" y="1192">CLDN34</text>
<circle class="b" cx="1323" cy="1268" r="29"/><text class="tc" x="1323" y="1268">CUNH21orf62</text>
<circle class="b" cx="1250" cy="1337" r="29"/><text class="tc" x="1250" y="1337">ANGPTL1</text>
<circle class="b" cx="1168" cy="1394" r="29"/><text class="tc" x="1168" y="1394">NPBWR1</text>
<circle class="b" cx="1080" cy="1440" r="29"/><text class="tc" x="1080" y="1440">GUCA1C</text>
<circle class="b" cx="985" cy="1473" r="29"/><text class="tc" x="985" y="1473">CLTRN</text>
<circle class="b" cx="886" cy="1494" r="29"/><text class="tc" x="886" y="1494">REP15</text>
<circle class="b" cx="785" cy="1500" r="29"/><text class="tc" x="785" y="1500">ASB11</text>
<circle class="b" cx="685" cy="1494" r="29"/><text class="tc" x="685" y="1494">NPFFR2</text>
<circle class="b" cx="586" cy="1473" r="29"/><text class="tc" x="586" y="1473">F13A1</text>
<circle class="b" cx="491" cy="1440" r="29"/><text class="tc" x="491" y="1440">GPR82</text>
<circle class="b" cx="402" cy="1394" r="29"/><text class="tc" x="402" y="1394">SLC17A6</text>
<circle class="b" cx="320" cy="1337" r="29"/><text class="tc" x="320" y="1337">GRIA4</text>
<circle class="b" cx="244" cy="1266" r="29"/><text class="tc" x="244" y="1266">SCML4</text>
<circle class="b" cx="182" cy="1189" r="29"/><text class="tc" x="182" y="1189">BMP5</text>
<circle class="b" cx="135" cy="1107" r="29"/><text class="tc" x="135" y="1107">FAM180A</text>
<circle class="b" cx="96" cy="1017" r="29"/><text class="tc" x="96" y="1017">MMP23B</text>
<circle class="b" cx="72" cy="922" r="29"/><text class="tc" x="72" y="922">S100A1</text>
<circle class="b" cx="62" cy="825" r="29"/><text class="tc" x="62" y="825">PPEF1</text>
<circle class="b" cx="65" cy="728" r="29"/><text class="tc" x="65" y="728">ANGPTL5</text>
<circle class="b" cx="83" cy="631" r="29"/><text class="tc" x="83" y="631">CHAD</text>
<circle class="b" cx="113" cy="538" r="29"/><text class="tc" x="113" y="538">RFX4</text>
<circle class="b" cx="158" cy="451" r="29"/><text class="tc" x="158" y="451">DMRTB1</text>
<circle class="b" cx="215" cy="371" r="29"/><text class="tc" x="215" y="371">LMX1A</text>
<circle class="b" cx="282" cy="298" r="29"/><text class="tc" x="282" y="298">POMC</text>
<circle class="b" cx="359" cy="235" r="29"/><text class="tc" x="359" y="235">EYA4</text>
<circle class="b" cx="445" cy="183" r="29"/><text class="tc" x="445" y="183">WSCD2</text>
<circle class="b" cx="538" cy="144" r="29"/><text class="tc" x="538" y="144">ZNF488</text>
<circle class="b" cx="635" cy="117" r="29"/><text class="tc" x="635" y="117">TMEM272</text>
<circle class="b" cx="735" cy="103" r="29"/><text class="tc" x="735" y="103">CUNH16orf89</text>
<circle class="b" cx="835" cy="103" r="29"/><text class="tc" x="835" y="103">CRHR2</text>
</g>
<g>
<circle class="r" cx="640" cy="472" r="33"/><text class="tc" x="640" y="472">miR-1799-z</text>
<circle class="r" cx="813" cy="461" r="30"/><text class="tc" x="813" y="461">miR-151-x</text>
<circle class="y" cx="970" cy="530" r="38"/><text class="tc" x="970" y="530">miR-144-y</text>
<circle class="r" cx="493" cy="560" r="30"/><text class="tc" x="493" y="560">miR-375-z</text>
<circle class="r" cx="1078" cy="660" r="60"/><text class="tc" x="1078" y="660">miR-143-y</text>
<circle class="r" cx="403" cy="703" r="28"/><text class="tc" x="403" y="703">miR-2184-x</text>
<circle class="y" cx="1110" cy="825" r="33"/><text class="tc" x="1110" y="825">miR-301-y</text>
<circle class="y" cx="393" cy="870" r="30"/><text class="tc" x="393" y="870">miR-460-x</text>
<circle class="y" cx="1059" cy="985" r="58"/><text class="tc" x="1059" y="985">miR-135-x</text>
<circle class="y" cx="466" cy="1022" r="30"/><text class="tc" x="466" y="1022">miR-34-x</text>
<circle class="r" cx="938" cy="1104" r="29"/><text class="tc" x="938" y="1104">miR-2766-y</text>
<circle class="r" cx="601" cy="1125" r="43"/><text class="tc" x="601" y="1125">miR-10174-y</text>
<circle class="r" cx="773" cy="1155" r="58"/><text class="tc" x="773" y="1155">miR-1-z</text>
</g>
</g>
</svg>
</body></html>
